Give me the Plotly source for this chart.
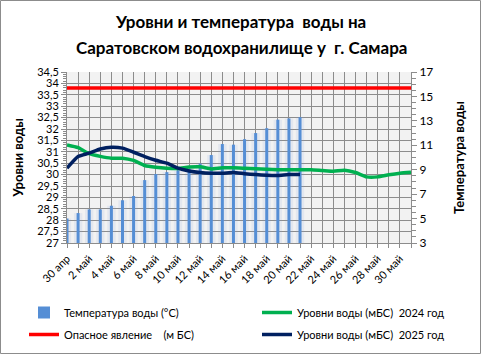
import plotly.graph_objects as go

days = ["30 апр"] + [f"{d} май" for d in range(1, 32)]
tick_idx = list(range(0, 32, 2))
tick_text = [days[i] for i in tick_idx]

temp = [5.0, 5.45, 5.75, 5.75, 6.05, 6.5, 6.85, 8.15, 8.65, 8.8, 8.95, 9.1, 9.5,
        10.2, 11.1, 11.05, 11.5, 12.0, 12.4, 13.1, 13.2, 13.3]
level_2024 = [31.3, 31.18, 30.92, 30.8, 30.72, 30.72, 30.62, 30.4, 30.32, 30.28,
              30.27, 30.33, 30.34, 30.25, 30.3, 30.3, 30.28, 30.26, 30.23, 30.21,
              30.21, 30.21, 30.21, 30.18, 30.15, 30.19, 30.09, 29.9, 29.9, 29.99,
              30.06, 30.1]
level_2025 = [30.28, 30.79, 30.94, 31.12, 31.2, 31.16, 30.98, 30.79, 30.63, 30.5,
              30.28, 30.16, 30.09, 30.06, 30.06, 30.09, 30.04, 30.0, 29.97, 29.96,
              30.0, 30.0]
danger = [33.8] * 32

left_ticks = [27 + 0.5 * i for i in range(16)]
left_text = [("%g" % v).replace(".", ",") for v in left_ticks]
right_ticks = list(range(3, 18, 2))

title_lines = ["Уровни и температура  воды на", "Саратовском водохранилище у  г. Самара"]

FONT = "Lato"
x_all = list(range(32))

W, H = 481, 354
L, R, T, B = 67, 70, 72, 111
pw = W - L - R
ph = H - T - B


def px_x(px):
    return (px - L) / pw


def px_y(py):
    return (T + ph - py) / ph


fig = go.Figure()
# soft glow behind bars
fig.add_trace(go.Bar(x=x_all[:len(temp)], y=[t - 3 for t in temp], base=3, width=0.75,
                     marker=dict(color="rgba(120,160,220,0.12)", line=dict(width=0)),
                     yaxis="y", showlegend=False, hoverinfo="skip"))
fig.add_trace(go.Bar(x=x_all[:len(temp)], y=[t - 3 for t in temp], base=3, width=0.27,
                     marker=dict(color="#558ED5", line=dict(width=0)),
                     name="Температура воды (°C)", yaxis="y",
                     legend="legend", legendgroup="a"))
fig.add_trace(go.Scatter(x=x_all, y=level_2024, mode="lines",
                         line=dict(color="#00B050", width=3.5, shape="spline", smoothing=0.5),
                         name="Уровни воды (мБС)  2024 год", yaxis="y2",
                         legend="legend2", legendgroup="c"))
fig.add_trace(go.Scatter(x=x_all, y=danger, mode="lines",
                         line=dict(color="#FF0000", width=3.5),
                         name="Опасное явление    (м БС)", yaxis="y2",
                         legend="legend", legendgroup="b"))
fig.add_trace(go.Scatter(x=x_all[:len(level_2025)], y=level_2025, mode="lines",
                         line=dict(color="#002060", width=3.5, shape="spline", smoothing=0.5),
                         name="Уровни воды (мБС)  2025 год", yaxis="y2",
                         legend="legend2", legendgroup="d"))

legend_common = dict(orientation="v", yanchor="top", xanchor="left",
                     font=dict(size=11, color="#000"), bgcolor="rgba(0,0,0,0)",
                     tracegroupgap=3, itemwidth=30)

fig.update_layout(
    width=W, height=H,
    margin=dict(l=L, r=R, t=T, b=B, autoexpand=False),
    paper_bgcolor="white", plot_bgcolor="#F2F2F2",
    font=dict(family=FONT, size=12, color="#000"),
    barmode="overlay",
    showlegend=True,
    xaxis=dict(range=[0, 31], tickmode="array", tickvals=tick_idx, ticktext=tick_text,
               tickangle=-45, tickfont=dict(size=11, color="#000"),
               showgrid=True, gridcolor="#8C8C8C", gridwidth=1,
               minor=dict(dtick=1, showgrid=True, gridcolor="#8C8C8C", gridwidth=1,
                          ticks="outside", ticklen=4, tickcolor="#8C8C8C"),
               ticks="outside", ticklen=4, tickcolor="#8C8C8C",
               showline=True, linecolor="#8C8C8C", zeroline=False, fixedrange=True),
    yaxis=dict(range=[3, 17], side="right", tickmode="array", tickvals=right_ticks,
               tickfont=dict(size=12, color="#000"), showgrid=False, zeroline=False,
               ticks="outside", ticklen=5, tickcolor="#8C8C8C",
               minor=dict(dtick=0.5, ticks="outside", ticklen=4, tickcolor="#8C8C8C", showgrid=False),
               showline=True, linecolor="#8C8C8C",
               title=dict(text="<b>Температура воды</b>", font=dict(size=13), standoff=22)),
    yaxis2=dict(range=[27, 34.5], side="left", overlaying="y", tickmode="array",
                tickvals=left_ticks, ticktext=left_text,
                tickfont=dict(size=11, color="#000"),
                showgrid=True, gridcolor="#8C8C8C", gridwidth=1, zeroline=False,
                ticks="outside", ticklen=5, tickcolor="#8C8C8C",
                minor=dict(dtick=0.1, ticks="outside", ticklen=3, tickcolor="#8C8C8C", showgrid=False),
                showline=True, linecolor="#8C8C8C",
                title=dict(text="<b>Уровни воды</b>", font=dict(size=13), standoff=10)),
    legend=dict(x=px_x(24), y=px_y(298), **legend_common),
    legend2=dict(x=px_x(257), y=px_y(298), **legend_common),
    annotations=[
        dict(text="<b>%s</b>" % title_lines[0], xref="paper", yref="paper",
             x=px_x(240), y=px_y(22), xanchor="center", yanchor="middle",
             showarrow=False, font=dict(family=FONT, size=17, color="#000")),
        dict(text="<b>%s</b>" % title_lines[1], xref="paper", yref="paper",
             x=px_x(241), y=px_y(47), xanchor="center", yanchor="middle",
             showarrow=False, font=dict(family=FONT, size=17, color="#000")),
    ],
    shapes=[dict(type="rect", xref="paper", yref="paper",
                 x0=px_x(0.5), x1=px_x(W - 0.5), y0=px_y(H - 0.5), y1=px_y(0.5),
                 line=dict(color="#8C8C8C", width=1), layer="below")],
)

fig.write_html("out.html")
